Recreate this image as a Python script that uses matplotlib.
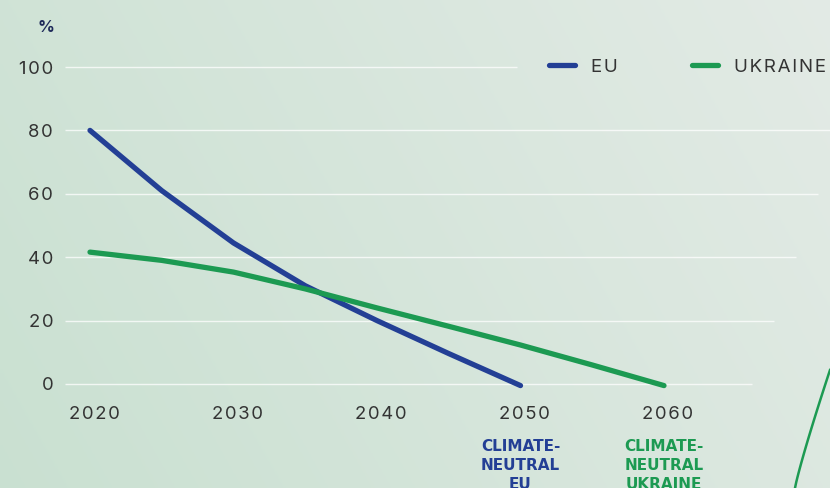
import matplotlib.pyplot as plt
from matplotlib.lines import Line2D
import matplotlib.transforms as mtransforms
import numpy as np

# data
years_eu = [2020, 2025, 2030, 2035, 2040, 2045, 2050]
eu = [80, 61, 44.5, 31, 20, 9.6, -0.5]
years_ua = [2020, 2025, 2030, 2035, 2040, 2045, 2050, 2055, 2060]
ukraine = [41.6, 39.0, 35.3, 30.0, 24.0, 18.2, 12.3, 6.0, -0.5]
x_ticks = [2020, 2030, 2040, 2050, 2060]
y_ticks = [0, 20, 40, 60, 80, 100]
series_names = ['EU', 'UKRAINE']

EU_COL = '#233f95'
UA_COL = '#1c9a52'
TXT = '#333333'
HAIR = '\u200a'


def spaced(s):
    # crude letter spacing with hair spaces
    return HAIR.join(s)


plt.rcParams['font.family'] = ['Inter', 'DejaVu Sans']

W, H = 830, 488
fig = plt.figure(figsize=(W / 100, H / 100), dpi=100)

# background gradient
bg = fig.add_axes([0, 0, 1, 1])
xx, yy = np.meshgrid(np.linspace(0, 1, 200), np.linspace(0, 1, 200))
t = np.clip(0.75 * xx + 0.25 * yy, 0, 1)
c0 = np.array([0.79, 0.88, 0.82])
c1 = np.array([0.89, 0.92, 0.90])
img = c0[None, None, :] * (1 - t[..., None]) + c1[None, None, :] * t[..., None]
bg.imshow(img, extent=[0, 1, 0, 1], aspect='auto', origin='lower')
bg.axis('off')

# axes placed in pixel terms
left, right, top, bottom = 65, 830, 50, 400
ax = fig.add_axes([left / W, 1 - bottom / H, (right - left) / W, (bottom - top) / H])
ax.patch.set_alpha(0)
px_per_year = 14.35
px_per_unit = 3.17
ax.set_xlim(2020 - (90 - left) / px_per_year, 2020 + (right - 90) / px_per_year)
ax.set_ylim(-(bottom - 384) / px_per_unit, (384 - top) / px_per_unit)

# gridlines, cut off along a diagonal on the right
for v in y_ticks:
    if v == 100:
        xend = 2020 + (517 - 90) / px_per_year
    else:
        xend = 2020 + (752 + 22 * v / 20 - 90) / px_per_year
    ax.hlines(v, ax.get_xlim()[0], xend, color='white', lw=1, alpha=0.75, zorder=1)

ax.plot(years_eu, eu, color=EU_COL, lw=3.8, solid_capstyle='round', solid_joinstyle='round', zorder=3)
ax.plot(years_ua, ukraine, color=UA_COL, lw=3.8, solid_capstyle='round', solid_joinstyle='round', zorder=3)

for s in ax.spines.values():
    s.set_visible(False)
ax.set_xticks(x_ticks, [spaced(str(v)) for v in x_ticks])
ax.set_yticks(y_ticks, [spaced(str(v)) for v in y_ticks])
ax.tick_params(length=0, labelsize=13.3, labelcolor=TXT)
ax.tick_params(axis='y', pad=8.5)
ax.tick_params(axis='x', pad=4)
# year labels sit a few pixels right of their ticks in the reference
shift = mtransforms.ScaledTranslation(4 / 100, 0, fig.dpi_scale_trans)
for lab in ax.get_xticklabels():
    lab.set_transform(lab.get_transform() + shift)

fig.text(46 / W, 1 - 27 / H, '%', ha='center', va='center', fontsize=12,
         fontweight='bold', color='#1f2b5a')

# annotations under the target years
note_kw = dict(ha='center', va='top', fontsize=11, fontweight='bold',
               family='DejaVu Sans', linespacing=1.33, annotation_clip=False)
ax.annotate('CLIMATE-\nNEUTRAL\nEU', xy=(2050, 0), xycoords=('data', 'figure pixels'),
            xytext=(2050, H - 439), textcoords=('data', 'figure pixels'),
            color=EU_COL, **note_kw)
ax.annotate('CLIMATE-\nNEUTRAL\nUKRAINE', xy=(2060, 0), xycoords=('data', 'figure pixels'),
            xytext=(2060, H - 439), textcoords=('data', 'figure pixels'),
            color=UA_COL, **note_kw)

# legend
handles = [Line2D([], [], color=EU_COL, lw=3.8, solid_capstyle='round'),
           Line2D([], [], color=UA_COL, lw=3.8, solid_capstyle='round')]
leg = fig.legend(handles, [spaced(n) for n in series_names], loc='center left',
                 bbox_to_anchor=(549 / W, 1 - 67 / H), ncol=2, frameon=False,
                 prop={'size': 13.5}, handlelength=1.4,
                 handletextpad=0.85, columnspacing=3.95, borderpad=0, borderaxespad=0)
for txt in leg.get_texts():
    txt.set_color(TXT)

# decorative curve in the lower right corner
dx = np.linspace(0, 1, 30)
fig.add_artist(Line2D((795 + 35 * dx) / W, 1 - (488 - 118 * dx ** 0.9) / H,
                      color=UA_COL, lw=1.8, transform=fig.transFigure))

fig.savefig('out.png', dpi=100)
